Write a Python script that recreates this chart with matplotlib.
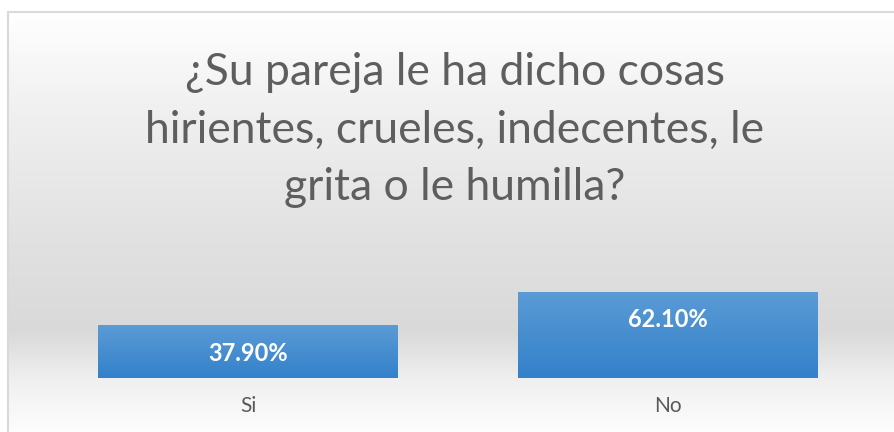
import matplotlib.pyplot as plt
import numpy as np
from matplotlib.colors import LinearSegmentedColormap
from matplotlib.patches import Rectangle

categories = ["Si", "No"]
values = [37.90, 62.10]
value_labels = ["37.90%", "62.10%"]
title = "¿Su pareja le ha dicho cosas\nhirientes, crueles, indecentes, le\ngrita o le humilla?"

W, H = 895, 432
fig = plt.figure(figsize=(W / 100, H / 100), dpi=100)
fig.patch.set_facecolor("white")

# chart area background (vertical gradient, white -> gray -> near white)
bg = fig.add_axes([8 / W, 0, 1 - 8 / W, (H - 12) / H], zorder=0)
bg_cmap = LinearSegmentedColormap.from_list(
    "bg",
    [(0.0, "#fdfdfd"), (0.12, "#f0f0f0"), (0.24, "#d9d9d9"),
     (0.45, "#e1e1e1"), (0.75, "#efefef"), (1.0, "#ffffff")],
)
grad = np.linspace(0, 1, 256).reshape(-1, 1)
bg.imshow(grad, aspect="auto", cmap=bg_cmap, origin="lower",
          extent=[0, 1, 0, 1])
bg.set_xlim(0, 1)
bg.set_ylim(0, 1)
bg.axis("off")
fig.add_artist(Rectangle((8 / W, -0.01), 1, (H - 12) / H + 0.01,
                         transform=fig.transFigure, fill=False,
                         edgecolor="#d9d9d9", linewidth=1.5, zorder=5))

fig.text(455 / W, 1 - 130 / H, title, ha="center", va="center",
         fontsize=32, color="#5e5e5e", family="Lato",
         linespacing=1.5, zorder=6)

# bars
ax = fig.add_axes([38 / W, 54 / H, 840 / W, 97 / H], zorder=2)
ax.patch.set_alpha(0)
x = np.arange(len(categories))
bars = ax.bar(x, values, width=0.714, color="#4a8fd3", zorder=2)
ax.set_xlim(-0.5, 1.5)
ax.set_ylim(0, 70)

bar_cmap = LinearSegmentedColormap.from_list("bar", ["#3381cb", "#5b9bd5"])
for b in bars:
    x0, y0 = b.get_x(), b.get_y()
    im = ax.imshow(grad, aspect="auto", cmap=bar_cmap, origin="lower",
                   extent=[x0, x0 + b.get_width(), y0, y0 + b.get_height()],
                   zorder=3)
    im.set_clip_path(b)

for b, lab in zip(bars, value_labels):
    ax.annotate(lab, (b.get_x() + b.get_width() / 2, b.get_height()),
                xytext=(0, -20), textcoords="offset points",
                ha="center", va="center", color="white", fontsize=17,
                fontweight="bold", family="Lato", zorder=4)

ax.set_xticks(x)
ax.set_xticklabels(categories, fontsize=15, color="#595959", family="Lato")
ax.tick_params(axis="x", length=0, pad=13)
ax.set_yticks([])
for s in ax.spines.values():
    s.set_visible(False)

fig.savefig("out.png", dpi=100)
